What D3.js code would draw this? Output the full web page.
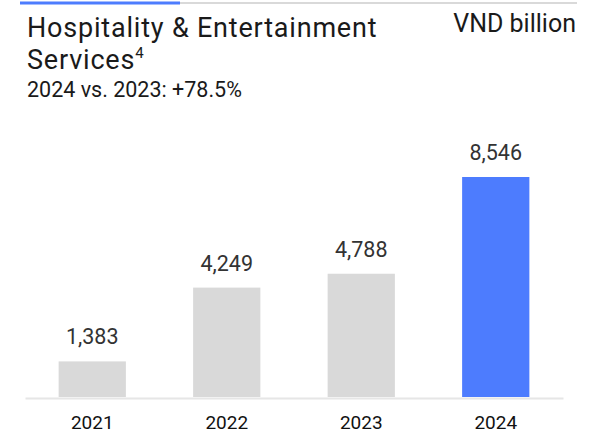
<!DOCTYPE html>
<html>
<head>
<meta charset="utf-8">
<script src="https://cdn.jsdelivr.net/npm/d3@7"></script>
<style>
  body { margin: 0; background: #fff; }
  svg { display: block; font-family: Roboto, "Noto Sans", sans-serif; }
</style>
</head>
<body>
<svg></svg>
<script>
// datos
const years = ["2021", "2022", "2023", "2024"];
const values = [1383, 4249, 4788, 8546];
const highlight = ["2024"];

const svgWidth = 611, svgHeight = 435;
const svg = d3.select("svg")
    .attr("width", svgWidth)
    .attr("height", svgHeight);

// línea superior (progreso)
svg.append("rect").attr("x", 20).attr("y", 2).attr("width", 557).attr("height", 2).attr("fill", "#d9d9d9");
svg.append("rect").attr("x", 20).attr("y", 1.5).attr("width", 160).attr("height", 3).attr("fill", "#4d7cfe");

// título en dos líneas
svg.append("text").attr("x", 27).attr("y", 37)
    .attr("font-size", 27).attr("letter-spacing", 0.8).attr("fill", "#1a1a1a")
    .text("Hospitality & Entertainment");
const t2 = svg.append("text").attr("x", 27).attr("y", 69)
    .attr("font-size", 27).attr("letter-spacing", 0.8).attr("fill", "#1a1a1a");
t2.append("tspan").text("Services");
t2.append("tspan").attr("font-size", 15).attr("dy", -11).text("4");

svg.append("text").attr("x", 27).attr("y", 97)
    .attr("font-size", 21.5).attr("fill", "#1a1a1a")
    .text("2024 vs. 2023: +78.5%");

svg.append("text").attr("x", 576).attr("y", 32)
    .attr("text-anchor", "end")
    .attr("font-size", 25).attr("fill", "#1a1a1a")
    .text("VND billion");

// escalas
const x = d3.scaleBand()
    .domain(years)
    .range([25, 563])
    .paddingInner(0.5)
    .paddingOuter(0.25);

const y = d3.scaleLinear()
    .domain([0, 8546])
    .range([397, 177]);

// barras
svg.selectAll(".bar")
    .data(values)
    .enter().append("rect")
    .attr("class", "bar")
    .attr("x", (d, i) => x(years[i]))
    .attr("y", d => y(d))
    .attr("width", x.bandwidth())
    .attr("height", d => y(0) - y(d))
    .attr("fill", (d, i) => highlight.includes(years[i]) ? "#4d7cfe" : "#d9d9d9");

// etiquetas de valor
svg.selectAll(".val")
    .data(values)
    .enter().append("text")
    .attr("class", "val")
    .attr("x", (d, i) => x(years[i]) + x.bandwidth() / 2)
    .attr("y", d => y(d) - 17)
    .attr("text-anchor", "middle")
    .attr("font-size", 21.5)
    .attr("fill", "#333")
    .text(d => d3.format(",")(d));

// eje inferior
const axis = svg.append("g")
    .attr("transform", "translate(0," + 398 + ")")
    .call(d3.axisBottom(x).tickSize(0).tickPadding(18));
axis.select(".domain").attr("stroke", "#e6e6e6").attr("stroke-width", 2);
axis.selectAll("text")
    .attr("font-size", 19)
    .attr("fill", "#111")
    .attr("font-family", "Roboto, sans-serif");
</script>
</body>
</html>
